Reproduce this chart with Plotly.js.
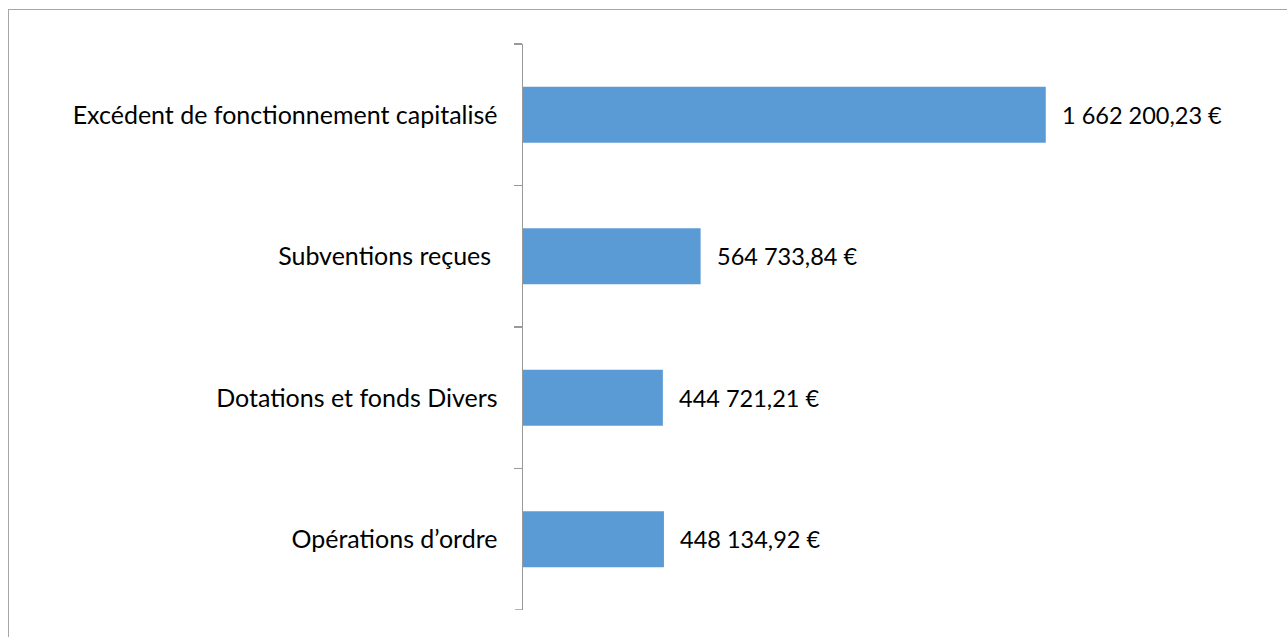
<!DOCTYPE html>
<html>
<head>
<meta charset="utf-8">
<script src="https://cdn.plot.ly/plotly-3.0.1.min.js"></script>
<style>
  html, body { margin: 0; padding: 0; width: 1287px; height: 637px; overflow: hidden; background: #fff; }
  #frame { position: absolute; left: 8px; top: 9px; width: 1400px; height: 800px; border: 1.5px solid #a6a6a6; box-sizing: border-box; }
  #chart { position: absolute; left: 0; top: 0; width: 1287px; height: 637px; }
</style>
</head>
<body>
<div id="frame"></div>
<div id="chart"></div>
<script>
const categories = [
  "Excédent de fonctionnement capitalisé",
  "Subventions reçues\u00a0",
  "Dotations et fonds Divers",
  "Opérations d\u2019ordre"
];
const values = [1662200.23, 564733.84, 444721.21, 448134.92];

function fmtEuro(v) {
  const parts = v.toFixed(2).split(".");
  const intPart = parts[0].replace(/\B(?=(\d{3})+(?!\d))/g, " ");
  return intPart + "," + parts[1] + " €";
}

const FONT = "Lato, 'Liberation Sans', sans-serif";
const AXIS_GRAY = "#999999";

const trace = {
  type: "bar",
  orientation: "h",
  y: categories,
  x: values,
  marker: { color: "#5b9bd5", line: { width: 0 } },
  hoverinfo: "skip"
};

const annotations = categories.map((c, i) => ({
  x: values[i], y: c, xref: "x", yref: "y",
  text: fmtEuro(values[i]),
  showarrow: false, xanchor: "left", yanchor: "middle",
  xshift: 14,
  font: { family: FONT, size: 23.5, color: "#000" }
}));

// closing tick at the bottom boundary of the category axis
const shapes = [{
  type: "line", xref: "paper", yref: "y",
  xsizemode: "pixel", xanchor: 0,
  x0: -8, x1: 0, y0: categories.length - 0.5, y1: categories.length - 0.5,
  line: { color: AXIS_GRAY, width: 1.5 }
}];

const layout = {
  width: 1287, height: 637,
  margin: { l: 523, r: 135, t: 44, b: 27, pad: 0 },
  paper_bgcolor: "rgba(0,0,0,0)",
  plot_bgcolor: "rgba(0,0,0,0)",
  showlegend: false,
  bargap: 0.604,
  font: { family: FONT, size: 25, color: "#000" },
  xaxis: {
    range: [0, 2000000],
    visible: false,
    fixedrange: true
  },
  yaxis: {
    type: "category",
    categoryorder: "array",
    categoryarray: categories,
    range: [categories.length - 0.5, -0.5],
    showline: true, linecolor: AXIS_GRAY, linewidth: 1.5,
    ticks: "outside", ticklen: 8, tickwidth: 1.5, tickcolor: AXIS_GRAY,
    tickson: "boundaries",
    showgrid: false, zeroline: false,
    ticklabelstandoff: 19,
    tickfont: { family: FONT, size: 25, color: "#000" },
    fixedrange: true
  },
  shapes: shapes,
  annotations: annotations
};

Plotly.newPlot("chart", [trace], layout, { displayModeBar: false, staticPlot: true });
</script>
</body>
</html>
